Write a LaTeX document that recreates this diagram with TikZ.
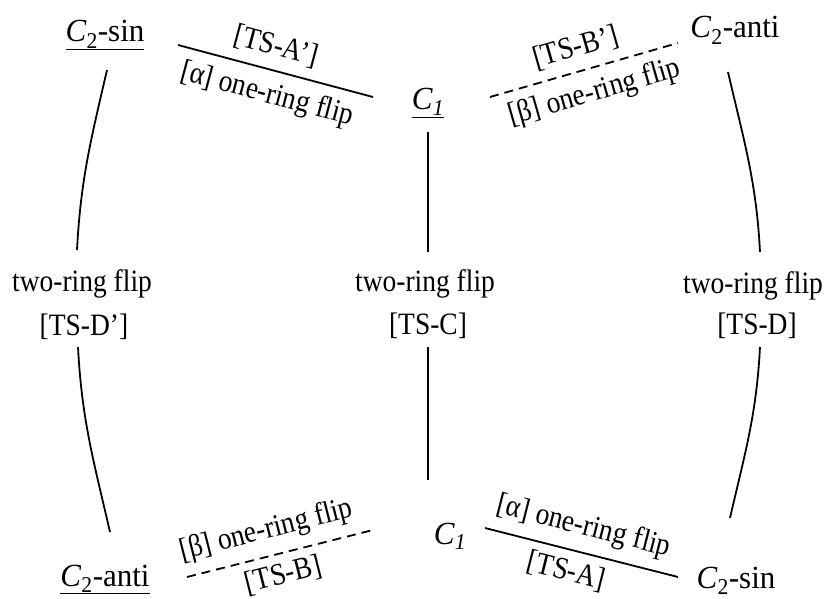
\documentclass[tikz,border=0pt]{standalone}
\usepackage{fontspec}
\setmainfont{Liberation Serif}
\usepackage{graphicx}
\newcommand\vst[1]{\scalebox{1}[1.13]{#1}}
\newcommand\vsc[1]{\scalebox{1}[1.04]{#1}}
\newcommand\Ctwo{\textit{C}\textsubscript{2}}
\newcommand\Cone{\textit{C}\textsubscript{\textit{1}}}
\begin{document}
\begin{tikzpicture}[x=1pt,y=1pt,
  lab/.style={font=\fontsize{27.5}{30}\selectfont, inner sep=0pt},
  conf/.style={font=\fontsize{31}{34}\selectfont, inner sep=0pt, anchor=base},
  mid/.style={lab, anchor=base},
  link/.style={line width=1.8pt},
  dlink/.style={line width=1.8pt, dash pattern=on 9pt off 6pt},
  up/.style={lab, sloped, above=10pt},
  dn/.style={lab, sloped, below=10pt}]
\useasboundingbox (0,0) rectangle (830,598);

% configurations
\node[conf] (TL) at (105,556) {\vsc{\underline{\Ctwo-sin}}};
\node[conf] (TC) at (428,488) {\vsc{\underline{\Cone}}};
\node[conf] (TR) at (735,560) {\vsc{\Ctwo-anti}};
\node[conf] (BL) at (105,12) {\vsc{\underline{\Ctwo-anti}}};
\node[conf] (BC) at (450,54) {\vsc{\Cone}};
\node[conf] (BR) at (736,10) {\vsc{\Ctwo-sin}};

% two-ring flip labels
\node[mid] (ml) at (82,306) {\vst{two-ring flip}};
\node[mid] (mlb) at (84,262) {\vst{[TS-D’]}};
\node[mid] (mc) at (425,306) {\vst{two-ring flip}};
\node[mid] (mcb) at (428,263) {\vst{[TS-C]}};
\node[mid] (mr) at (753,304) {\vst{two-ring flip}};
\node[mid] (mrb) at (757,263) {\vst{[TS-D]}};

% vertical connectors
\draw[link] ([shift={(2,-28)}]TL.base) to[out=257,in=87] ([shift={(-5,42)}]ml.base);
\draw[link] ([shift={(-6,-11)}]mlb.base) to[out=273,in=103] ([shift={(5,54)}]BL.base);
\draw[link] ([yshift=-22pt]TC.base) -- ([shift={(3,40)}]mc.base);
\draw[link] ([yshift=-12pt]mcb.base) -- ([shift={(-22,64)}]BC.base);
\draw[link] ([shift={(-7,-34)}]TR.base) to[out=283,in=93] ([shift={(7,42)}]mr.base);
\draw[link] ([shift={(3,-12)}]mrb.base) to[out=267,in=77] ([shift={(-6,70)}]BR.base);

% one-ring flip connectors
\draw[link] ([shift={(73,-3)}]TL.base) --
  node[up, pos=0.47] {\vst{[TS-A’]}}
  node[dn, pos=0.49] {\vst{[α] one-ring flip}}
  ([shift={(-55,13)}]TC.base);
\draw[dlink] ([shift={(62,13)}]TC.base) --
  node[up, pos=0.49] {\vst{[TS-B’]}}
  node[dn, pos=0.52] {\vst{[β] one-ring flip}}
  ([shift={(-57,-5)}]TR.base);
\draw[dlink] ([shift={(82,9)}]BL.base) --
  node[up, pos=0.46] {\vst{[β] one-ring flip}}
  node[lab, sloped, below=8pt, pos=0.49] {\vst{[TS-B]}}
  ([shift={(-77,14)}]BC.base);
\draw[link] ([shift={(35,16)}]BC.base) --
  node[up, pos=0.48] {\vst{[α] one-ring flip}}
  node[lab, sloped, below=8pt, pos=0.45] {\vst{[TS-A]}}
  ([shift={(-58,11)}]BR.base);
\end{tikzpicture}
\end{document}
